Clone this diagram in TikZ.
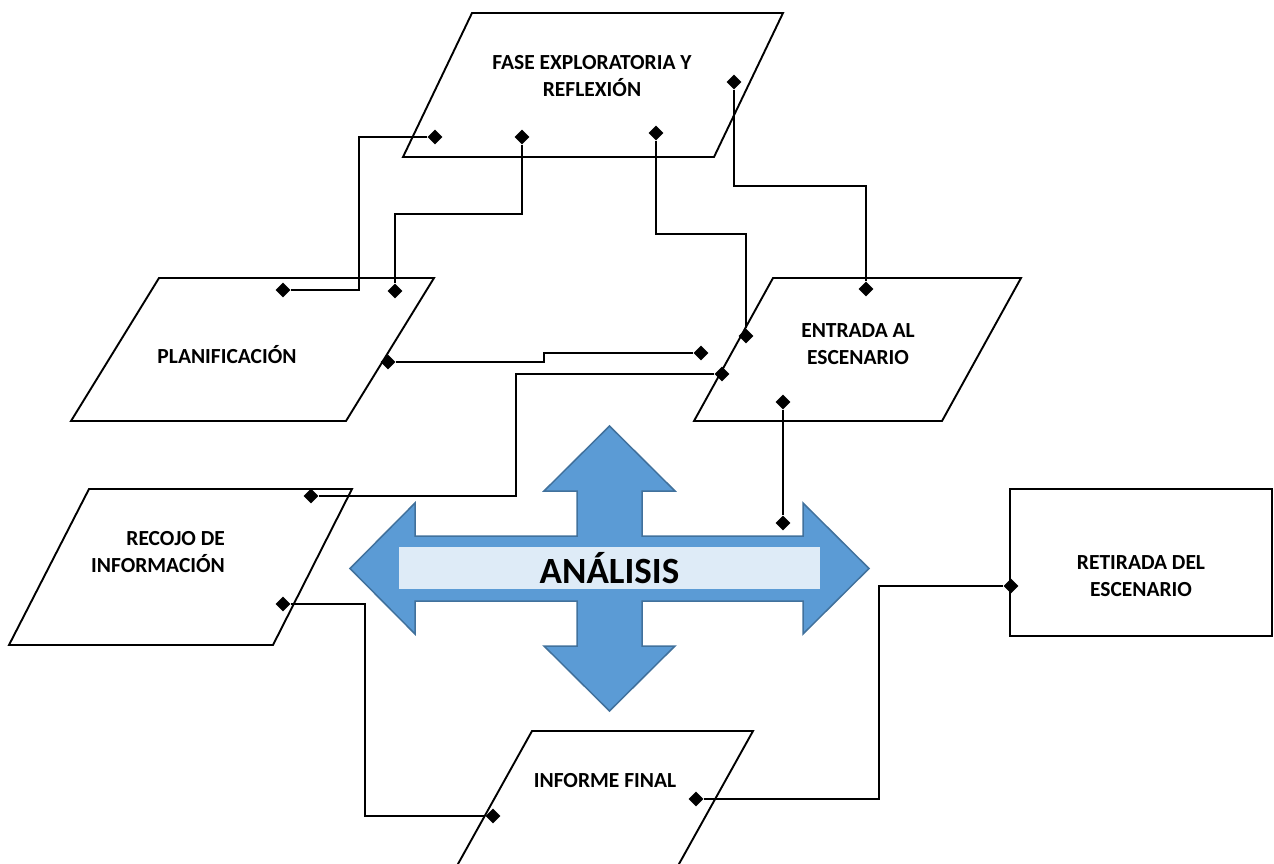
\documentclass[tikz,border=0pt]{standalone}
\usepackage{fontspec}
\setmainfont{Carlito}
\usetikzlibrary{shapes.geometric}
\definecolor{arrowblue}{RGB}{91,155,213}
\definecolor{arrowedge}{RGB}{65,113,156}
\definecolor{barblue}{RGB}{222,235,247}
\tikzset{
    flow-box/.style = {draw, line width=1.9pt, line join=miter},
    flow-label/.style = {font=\bfseries\fontsize{21.5}{27}\selectfont, align=center, inner sep=0pt},
    flow-link/.style = {line width=2.8pt},
    flow-knob/.style = {diamond, fill=black, inner sep=0pt, minimum width=15pt, minimum height=15pt},
}

\begin{document}
\begin{tikzpicture}[x=1pt, y=-1pt]
\useasboundingbox (0,0) rectangle (1274,864);

% the six stages
\draw[flow-box] (403,157) -- (472,13) -- (783,13) -- (714,157) -- cycle;
\draw[flow-box] (71,421) -- (159,278) -- (434,278) -- (346,421) -- cycle;
\draw[flow-box] (694,421) -- (773,278) -- (1021,278) -- (942,421) -- cycle;
\draw[flow-box] (9,645) -- (89,489) -- (352,489) -- (273,645) -- cycle;
\draw[flow-box] (451.3,876) -- (532,731) -- (753,731) -- (672.3,876) -- cycle;
\node[draw, line width=1.9pt, rectangle, minimum width=262pt, minimum height=147pt, inner sep=0pt] (retirada) at (1141,562.5) {};

\node[flow-label] (fase-text) at (592,76.5) {FASE EXPLORATORIA Y\\REFLEXIÓN};
\node[flow-label] (plan-text) at (227,355) {PLANIFICACIÓN};
\node[flow-label] (entrada-text) at (858,344) {ENTRADA AL\\ESCENARIO};
\node[flow-label, align=right] (recojo-text) at (158,552.5) {RECOJO DE\\INFORMACIÓN};
\node[flow-label] (informe-text) at (605,781) {INFORME FINAL};
\node[flow-label] (retirada-text) at (1141,576) {RETIRADA DEL\\ESCENARIO};

% four-way arrow
\draw[fill=arrowblue, draw=arrowedge, line width=1.5pt]
    (609.5,426) -- (675,491) -- (642,491) -- (642,536) -- (803,536) -- (803,503)
    -- (869,568.5) -- (803,634) -- (803,601) -- (642,601) -- (642,646) -- (675,646)
    -- (609.5,711) -- (544,646) -- (577,646) -- (577,601) -- (415,601) -- (415,634)
    -- (350,568.5) -- (415,503) -- (415,536) -- (577,536) -- (577,491) -- (544,491) -- cycle;
\node[fill=barblue, minimum width=421pt, minimum height=42pt, inner sep=0pt, font=\bfseries\fontsize{37}{40}\selectfont] (analisis) at (609.5,568) {ANÁLISIS};

% end points
\node[flow-knob] (fase-k1) at (435,137) {};
\node[flow-knob] (fase-k2) at (522,137) {};
\node[flow-knob] (fase-k3) at (656,133) {};
\node[flow-knob] (fase-k4) at (734,82) {};
\node[flow-knob] (plan-k1) at (283,290) {};
\node[flow-knob] (plan-k2) at (395,291) {};
\node[flow-knob] (plan-k3) at (388,362) {};
\node[flow-knob] (entrada-k1) at (746,336) {};
\node[flow-knob] (entrada-k2) at (866,289) {};
\node[flow-knob] (entrada-k3) at (701,353) {};
\node[flow-knob] (entrada-k4) at (722,374) {};
\node[flow-knob] (entrada-k5) at (783,402) {};
\node[flow-knob] (recojo-k1) at (311,496) {};
\node[flow-knob] (recojo-k2) at (283,604) {};
\node[flow-knob] (analisis-k1) at (783,523) {};
\node[flow-knob] (informe-k1) at (493,816) {};
\node[flow-knob] (informe-k2) at (696,799) {};
\node[flow-knob] (retirada-k1) at (1011,586) {};

% connectors
\draw[flow-link] (fase-k1) -- (359,137) |- (plan-k1);
\draw[flow-link] (fase-k2) |- (395,214) -- (plan-k2);
\draw[flow-link] (fase-k3) |- (746,234) -- (entrada-k1);
\draw[flow-link] (fase-k4) |- (866,186) -- (entrada-k2);
\draw[flow-link] (plan-k3) -- (544,362) |- (entrada-k3);
\draw[flow-link] (entrada-k4) -- (516,374) |- (recojo-k1);
\draw[flow-link] (entrada-k5) -- (analisis-k1);
\draw[flow-link] (recojo-k2) -- (365,604) |- (informe-k1);
\draw[flow-link] (informe-k2) -- (879,799) |- (retirada-k1);
\end{tikzpicture}
\end{document}
